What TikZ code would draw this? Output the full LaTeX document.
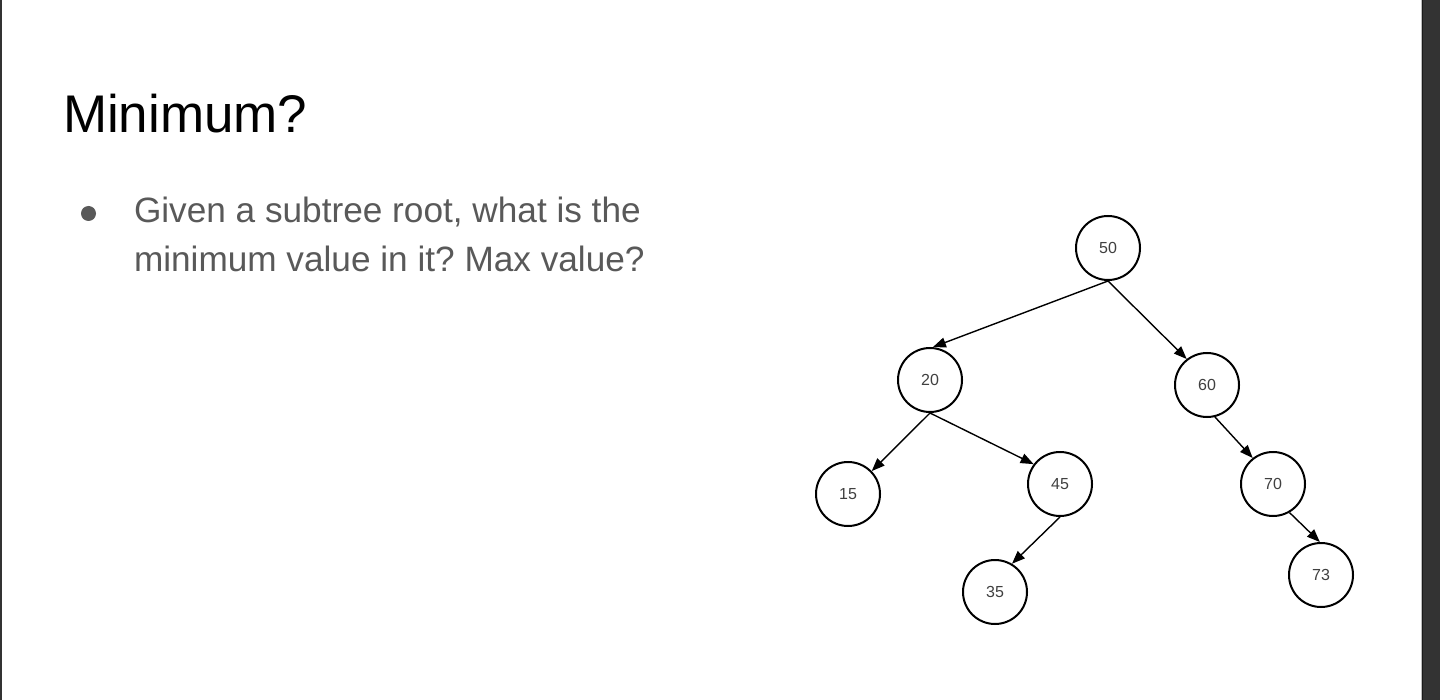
\documentclass[tikz,border=0pt]{standalone}
\usepackage{fontspec}
\setmainfont{Liberation Sans}
\usetikzlibrary{arrows.meta}
\definecolor{txtgray}{HTML}{595959}
\definecolor{lblgray}{HTML}{404040}
\definecolor{barDark}{HTML}{333333}
\definecolor{barLine}{HTML}{1A1A1A}
\definecolor{barLight}{HTML}{BDBDBD}
\frenchspacing
\begin{document}
\begin{tikzpicture}[x=1pt,y=-1pt,
  treenode/.style={circle, draw=black, line width=2pt, minimum size=64pt, inner sep=0pt,
    font=\fontsize{16}{18}\selectfont, text=lblgray, fill=white},
  edge/.style={line width=1.4pt, -{Triangle[length=13pt,width=10pt]}},
  plaintext/.style={anchor=base west, inner sep=0pt, outer sep=0pt},
]
\useasboundingbox (0,0) rectangle (1440,700);
\fill[white] (0,0) rectangle (1440,700);
% frame edges
\fill[barDark] (0,0) rectangle (2,700);
\fill[barLight] (1421,0) rectangle (1422,700);
\fill[barLine] (1422,0) rectangle (1423.3,700);
\fill[barDark] (1423.3,0) rectangle (1440,700);

% texts
\node[plaintext, font=\fontsize{53}{60}\selectfont, text=black] (title) at (63,133) {Minimum?};
\node[circle, fill=txtgray, minimum size=15pt, inner sep=0pt] (bullet) at (88.5,213.5) {};
\node[plaintext, font=\fontsize{35.2}{49}\selectfont, text=txtgray] (line1) at (134,223) {Given a subtree root, what is the};
\node[plaintext, font=\fontsize{35.2}{49}\selectfont, text=txtgray] (line2) at (134,272) {minimum value in it? Max value?};

% tree
\node[treenode] (n50) at (1108,248) {50};
\node[treenode] (n20) at (930,380) {20};
\node[treenode] (n60) at (1207,385) {60};
\node[treenode] (n15) at (848,494) {15};
\node[treenode] (n45) at (1060,484) {45};
\node[treenode] (n70) at (1273,484) {70};
\node[treenode] (n35) at (995,592) {35};
\node[treenode] (n73) at (1321,575) {73};

\draw[edge] (n50.south) -- (n20.85);
\draw[edge] (n50.south) -- (n60.128);
\draw[edge] (n20.south) -- (n15.44);
\draw[edge] (n20.south) -- (n45.143);
\draw[edge] (n45.south) -- (n35.59);
\draw[edge] (n60.-76) -- (n70.128);
\draw[edge] (n70.-60) -- (n73.92);
\end{tikzpicture}
\end{document}
